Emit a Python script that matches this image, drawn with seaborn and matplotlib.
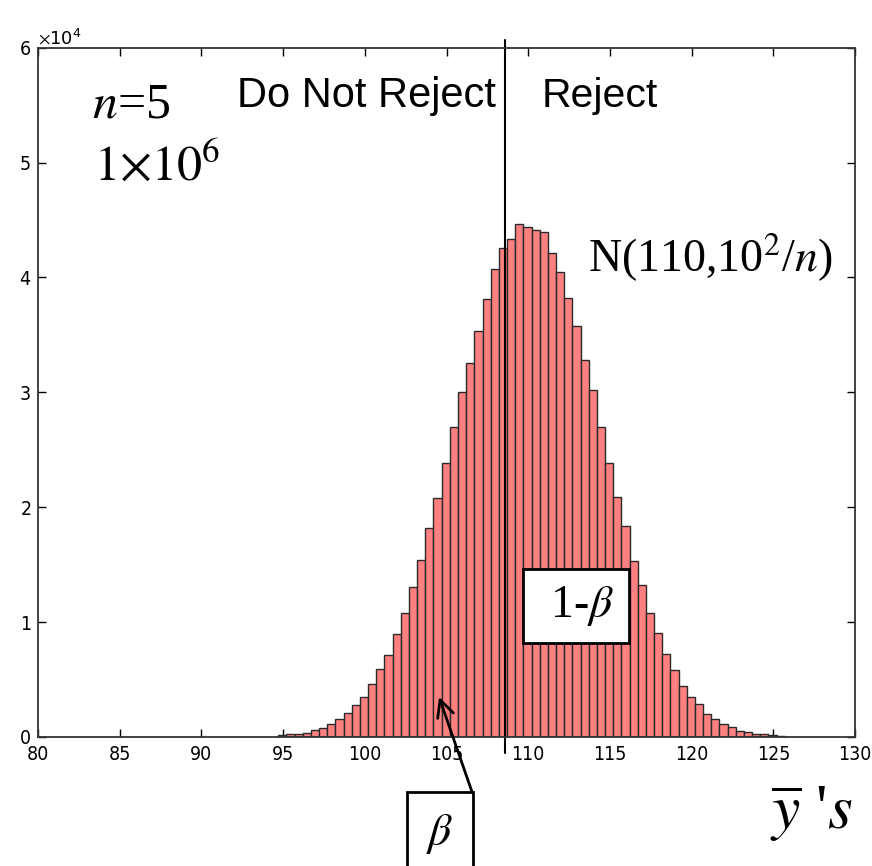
import numpy as np
import pandas as pd
import matplotlib.pyplot as plt
import seaborn as sns

# bar heights, bins 0.5 wide starting at 94.7
bin_start = 94.7
bin_width = 0.5
counts = [140, 230, 300, 380, 570, 800, 1100, 1550, 2050, 2760,
          3500, 4650, 5900, 7150, 9000, 10800, 13070, 15420, 18220, 20770,
          23820, 26980, 30030, 32580, 35360, 38090, 40730, 42590, 43310, 44620,
          44420, 44150, 43920, 42150, 40430, 38220, 35800, 32840, 30160, 26990,
          23850, 20920, 18350, 15350, 13240, 10760, 9080, 7250, 5810, 4430,
          3460, 2840, 1990, 1530, 1130, 830, 550, 400, 300, 220,
          150, 90]
crit = 108.55
x_ticks = [80, 85, 90, 95, 100, 105, 110, 115, 120, 125, 130]
y_ticks = [0, 10000, 20000, 30000, 40000, 50000, 60000]

bin_end = bin_start + bin_width * len(counts)
centers = bin_start + bin_width * (np.arange(len(counts)) + 0.5)
df = pd.DataFrame({"ybar": centers, "count": counts})

sns.set_style("ticks")
plt.rcParams['mathtext.fontset'] = 'stix'
plt.rcParams['xtick.direction'] = 'in'
plt.rcParams['ytick.direction'] = 'in'
plt.rcParams['text.color'] = 'black'
plt.rcParams['xtick.color'] = 'black'
plt.rcParams['ytick.color'] = 'black'

fig = plt.figure(figsize=(8.72, 8.66), dpi=100)
ax = fig.add_axes([0.0436, 0.149, 0.937, 0.796])

sns.histplot(data=df, x="ybar", weights="count", binwidth=bin_width,
             binrange=(bin_start, bin_end), color="#ff8080",
             edgecolor="#2a2a2a", linewidth=1, alpha=1, ax=ax)

ax.set_xlim(80, 130)
ax.set_ylim(0, 60000)
ax.set_xticks(x_ticks)
ax.set_yticks(y_ticks)
ax.set_xlabel("")
ax.set_ylabel("")
ax.ticklabel_format(axis='y', style='sci', scilimits=(4, 4), useMathText=True)
ax.tick_params(top=True, right=True, length=6, width=1)
ax.tick_params(axis='x', pad=6)
ax.tick_params(axis='y', pad=5)
for lab in ax.get_xticklabels() + ax.get_yticklabels():
    lab.set_family('DejaVu Sans')
    lab.set_fontstretch('condensed')
    lab.set_fontsize(14)
ax.yaxis.get_offset_text().set_fontsize(13)
for s in ax.spines.values():
    s.set_visible(True)
    s.set_linewidth(1.3)
    s.set_color("#333333")

# critical value line
ax.plot([crit, crit], [-1400, 60700], color='k', lw=1.5, clip_on=False)

sans = 'Liberation Sans'
serif = 'Liberation Serif'
ax.text(92.18, 54830, "Do Not Reject", family=sans, fontsize=30, ha='left', va='baseline')
ax.text(110.83, 54830, "Reject", family=sans, fontsize=29.5, ha='left', va='baseline')
ax.text(83.3, 53960, r"$n$=5", family=serif, fontsize=36, ha='left', va='baseline')
ax.text(83.4, 48480, r"$1{\times}10^{6}$", fontsize=36, ha='left', va='baseline')
ax.text(113.66, 40470, r"N(110,10$^2$/$n$)", family=serif, fontsize=33, ha='left', va='baseline')

ax.text(112.93, 11400, r" 1-$\beta$ ", family=serif, fontsize=33, ha='center', va='center',
        bbox=dict(boxstyle='square,pad=0.33', fc='white', ec='black', lw=2))
ax.text(104.6, -8400, r"$\beta$", fontsize=33, ha='center', va='center', clip_on=False,
        bbox=dict(boxstyle='square,pad=0.42', fc='white', ec='black', lw=2))
ax.annotate("", xy=(104.54, 3480), xytext=(106.56, -4790), annotation_clip=False,
            arrowprops=dict(arrowstyle='->', lw=2, mutation_scale=30, color='k',
                            shrinkA=0, shrinkB=0))

fig.text(0.883, 0.0416, r"$\overline{y}$ '$s$", family=serif, fontsize=46,
         ha='left', va='baseline')

plt.savefig("out.png", dpi=100)
